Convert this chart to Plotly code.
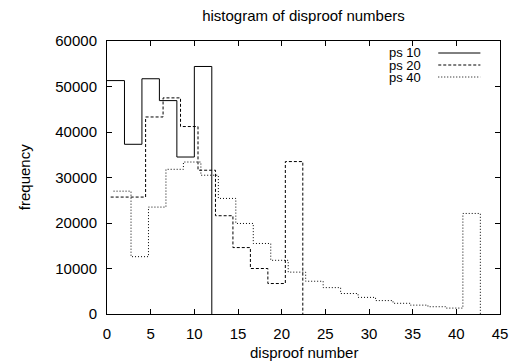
import plotly.graph_objects as go

# Histogram bin edges and counts per proof-search setting
ps10_edges = [0, 2, 4, 6, 8, 10, 12]
ps10_counts = [51300, 37300, 51700, 46900, 34500, 54400]

ps20_edges = [0.42, 2.42, 4.42, 6.42, 8.42, 10.42, 12.42, 14.42, 16.42, 18.42, 20.42, 22.42]
ps20_counts = [25700, 25700, 43300, 47500, 41200, 31600, 21600, 14600, 10000, 6700, 33500]

ps40_edges = [0.75, 2.75, 4.75, 6.75, 8.75, 10.75, 12.75, 14.75, 16.75, 18.75, 20.75,
              22.75, 24.75, 26.75, 28.75, 30.75, 32.75, 34.75, 36.75, 38.75, 40.75, 42.75]
ps40_counts = [27000, 12600, 23500, 31800, 33400, 30500, 25400, 19900, 15500, 11800, 9200,
               7200, 5800, 4500, 3650, 2950, 2350, 1950, 1600, 1300, 22100]

series = [
    ("ps 10", ps10_edges, ps10_counts, "solid"),
    ("ps 20", ps20_edges, ps20_counts, "3px,2px"),
    ("ps 40", ps40_edges, ps40_counts, "1px,2px"),
]

W, H = 520, 363
L, R, T, B = 107, 12, 41, 49
FONT = "Liberation Sans, Arial, sans-serif"


def px_x(p):
    return (p - L) / (W - L - R)


def px_y(p):
    return 1 - (p - T) / (H - T - B)


fig = go.Figure()
for name, edges, counts, dash in series:
    # step outline: hold each count across its bin, then drop to zero at the end
    xs = list(edges) + [edges[-1]]
    ys = list(counts) + [counts[-1], 0]
    fig.add_trace(go.Scatter(
        x=xs, y=ys, mode="lines", name=name, line_shape="hv",
        line=dict(color="black", width=1, dash=dash), showlegend=False,
    ))

# key in the top-right corner: label followed by a line sample
key_rows = [53, 65, 77]
for (name, _, _, dash), yp in zip(series, key_rows):
    fig.add_annotation(x=px_x(428), y=px_y(yp), xref="paper", yref="paper",
                       text=name, showarrow=False, xanchor="right", yanchor="middle",
                       borderpad=0,
                       font=dict(family=FONT, size=13, color="black"))
    fig.add_shape(type="line", xref="paper", yref="paper",
                  x0=px_x(445), x1=px_x(488), y0=px_y(yp), y1=px_y(yp),
                  line=dict(color="black", width=1, dash=dash))

fig.add_annotation(x=0.5, y=px_y(352), xref="paper", yref="paper",
                   text="disproof number", showarrow=False, yanchor="middle",
                   font=dict(family=FONT, size=15, color="black"))
fig.add_annotation(x=px_x(23), y=0.5, xref="paper", yref="paper",
                   text="frequency", showarrow=False, textangle=-90,
                   xanchor="center", yanchor="middle",
                   font=dict(family=FONT, size=15, color="black"))

axis_common = dict(
    showgrid=False, zeroline=False, showline=True, linecolor="black", linewidth=1,
    mirror="ticks", ticks="inside", ticklen=5, tickcolor="black", tickwidth=1,
    tickfont=dict(family=FONT, size=15, color="black"),
)

fig.update_layout(
    width=W, height=H,
    margin=dict(l=L, r=R, t=T, b=B),
    paper_bgcolor="white", plot_bgcolor="white",
    title=dict(text="histogram of disproof numbers", x=px_x(307.5), xref="paper",
               y=1 - 16 / H, yref="container", xanchor="center", yanchor="middle",
               font=dict(family=FONT, size=15, color="black")),
    xaxis=dict(range=[0, 45], dtick=5, tick0=0, ticklabelstandoff=6, **axis_common),
    yaxis=dict(range=[0, 60000], dtick=10000, tick0=0, tickformat="d",
               ticklabelstandoff=6, **axis_common),
)

fig.write_html("out.html")
